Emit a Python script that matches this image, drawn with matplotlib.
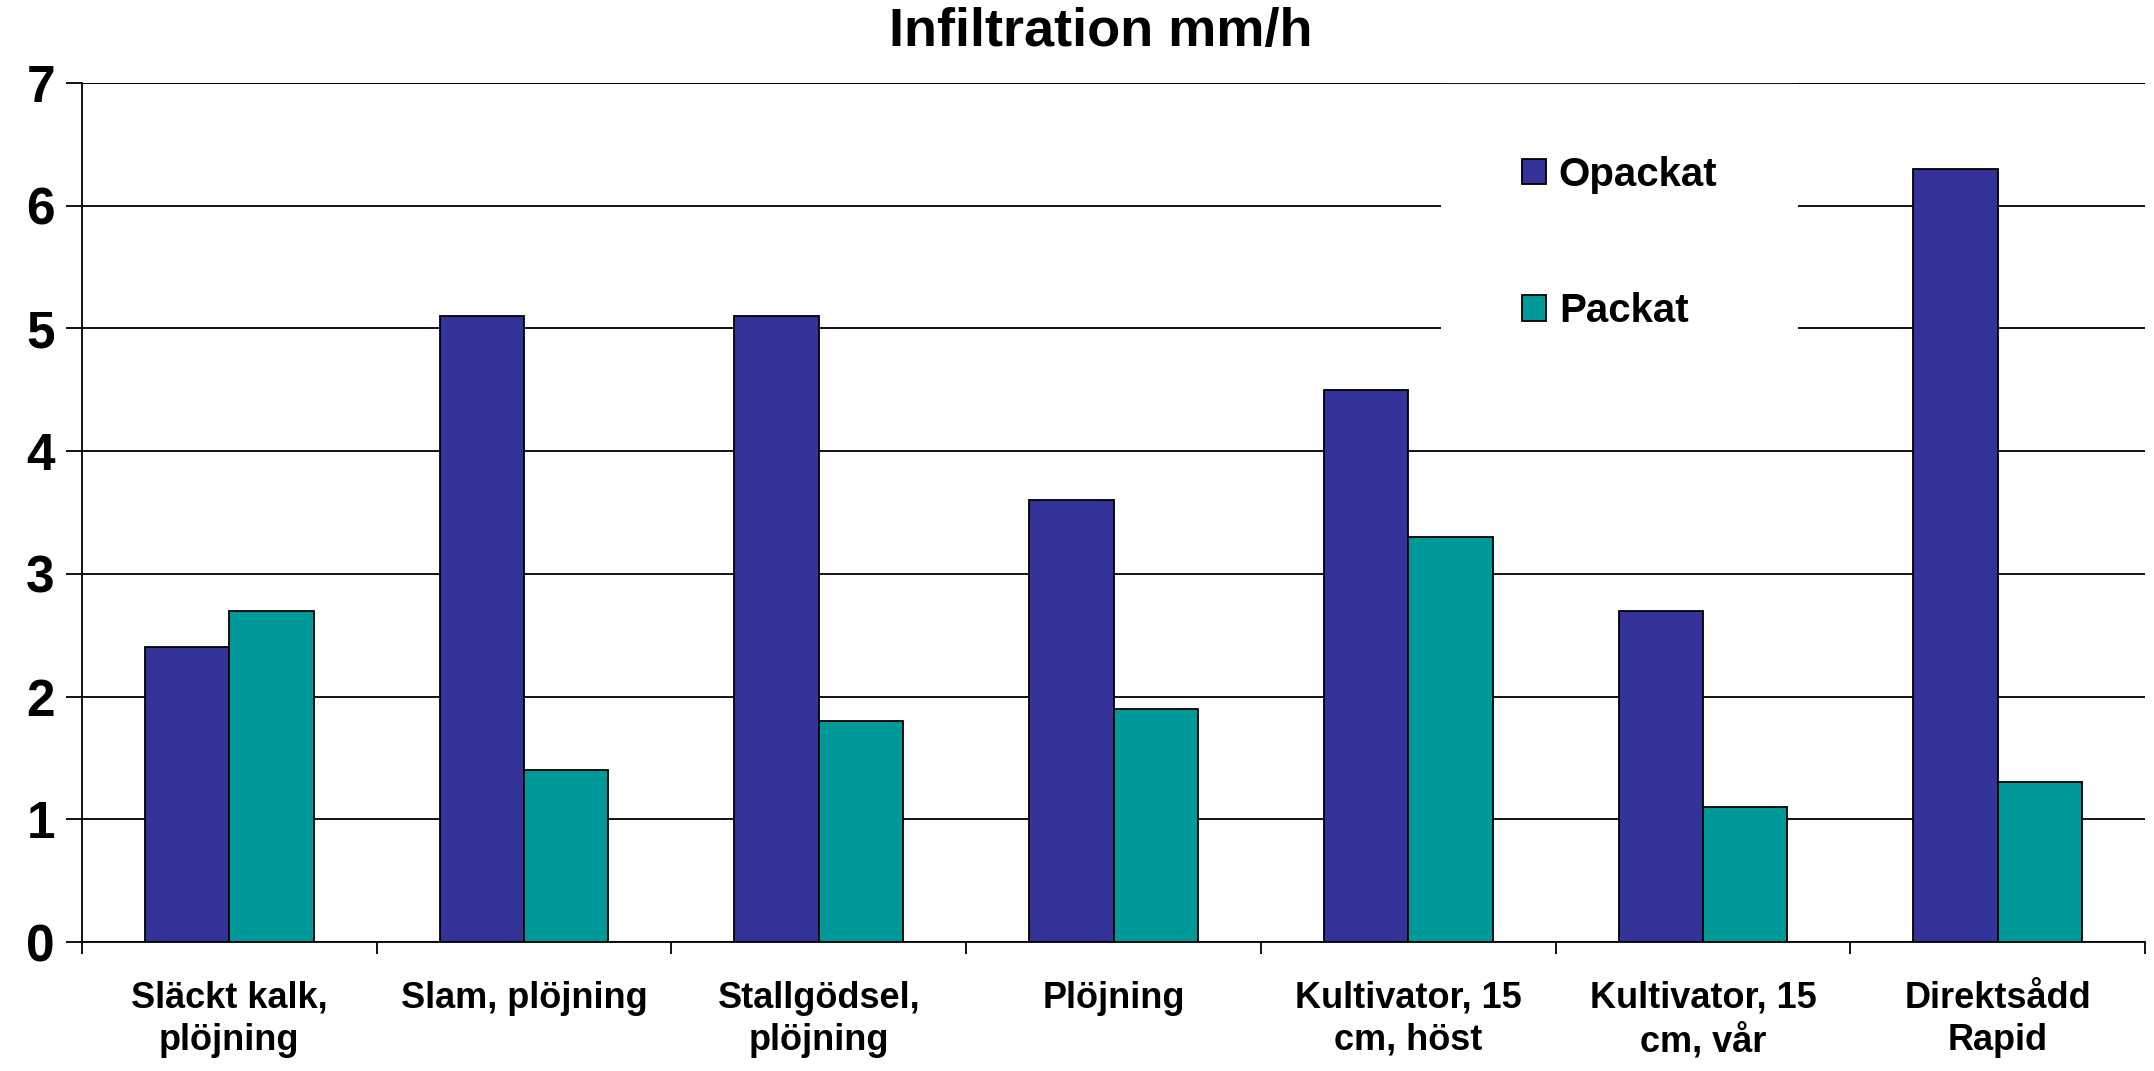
import matplotlib
matplotlib.use("Agg")
import matplotlib.pyplot as plt
import numpy as np

categories = ["Släckt kalk,\nplöjning", "Slam, plöjning", "Stallgödsel,\nplöjning",
              "Plöjning", "Kultivator, 15\ncm, höst", "Kultivator, 15\ncm, vår",
              "Direktsådd\nRapid"]
opackat = [2.4, 5.1, 5.1, 3.6, 4.5, 2.7, 6.3]
packat = [2.7, 1.4, 1.8, 1.9, 3.3, 1.1, 1.3]
yticks = [0, 1, 2, 3, 4, 5, 6, 7]

plt.rcParams['font.family'] = ['Liberation Sans', 'DejaVu Sans']
plt.rcParams['font.weight'] = 'bold'

fig = plt.figure(figsize=(21.54, 10.71), dpi=100)
ax = fig.add_axes([82/2154, 1 - 942/1071, (2145-82)/2154, (942-83)/1071])

x = np.arange(len(categories))
w = 0.286
ax.bar(x - w/2, opackat, w, color='#333399', edgecolor='black', linewidth=1.3,
       label='Opackat', zorder=3)
ax.bar(x + w/2, packat, w, color='#009999', edgecolor='black', linewidth=1.3,
       label='Packat', zorder=3)

ax.set_xlim(-0.5, len(categories) - 0.5)
ax.set_ylim(0, 7)
ax.set_yticks(yticks)
ax.set_yticklabels([str(v) for v in yticks], fontsize=37, fontweight='bold')
ax.yaxis.grid(True, color='black', linewidth=1.3, zorder=0)
ax.set_axisbelow(True)

ax.set_xticks(x)
ax.set_xticklabels(categories, fontsize=26, fontweight='bold', linespacing=1.25)
ax.set_xticks(np.arange(len(categories) + 1) - 0.5, minor=True)
ax.tick_params(axis='x', which='major', length=0, pad=28)
ax.tick_params(axis='x', which='minor', length=8.6, width=1.3, direction='out')
ax.tick_params(axis='y', length=11.5, width=1.3, pad=8)

for s in ['top', 'right']:
    ax.spines[s].set_visible(False)
for s in ['left', 'bottom']:
    ax.spines[s].set_linewidth(1.3)

leg = ax.legend(loc='upper left', bbox_to_anchor=(1421/2154, 1 - 55/1071),
                bbox_transform=fig.transFigure, frameon=True, fancybox=False,
                facecolor='white', edgecolor='none', framealpha=1,
                borderpad=2.0, labelspacing=2.45,
                handlelength=0.6, handleheight=0.6, handletextpad=0.32,
                prop={'weight': 'bold', 'size': 29})
for h in leg.legend_handles:
    h.set_edgecolor('black')
    h.set_linewidth(1.3)

ax.axhline(7, color='black', linewidth=1.3, zorder=6)

fig.text(1101/2154, 1 - 32/1071, "Infiltration mm/h", ha='center', va='center',
         fontsize=39, fontweight='bold')

fig.savefig("out.png", dpi=100)
